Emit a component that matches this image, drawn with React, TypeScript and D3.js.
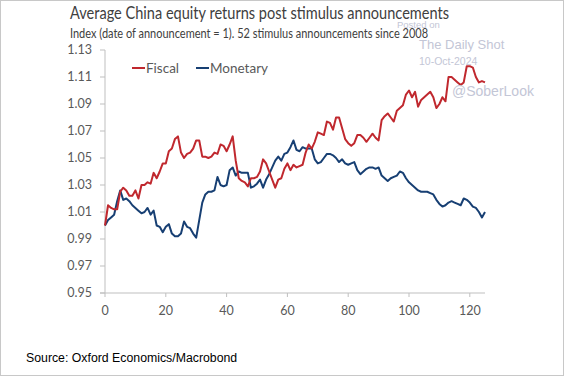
import React from "react";
import * as d3 from "d3";

const xTicks = [0, 20, 40, 60, 80, 100, 120];
const yTicks = [0.95, 0.97, 0.99, 1.01, 1.03, 1.05, 1.07, 1.09, 1.11, 1.13];

const fiscal = [
  1.000, 1.015, 1.013, 1.012, 1.012, 1.025, 1.028, 1.026, 1.022, 1.022,
  1.026, 1.020, 1.030, 1.030, 1.032, 1.031, 1.039, 1.035, 1.040, 1.046,
  1.046, 1.055, 1.057, 1.064, 1.066, 1.054, 1.050, 1.053, 1.054, 1.057,
  1.063, 1.063, 1.051, 1.051, 1.050, 1.051, 1.054, 1.053, 1.060, 1.059,
  1.055, 1.060, 1.066, 1.048, 1.035, 1.033, 1.032, 1.029, 1.035, 1.035,
  1.036, 1.040, 1.049, 1.046, 1.040, 1.034, 1.028, 1.034, 1.035, 1.042,
  1.046, 1.041, 1.045, 1.043, 1.044, 1.045, 1.054, 1.060, 1.057, 1.062,
  1.069, 1.068, 1.067, 1.077, 1.076, 1.071, 1.080, 1.080, 1.072, 1.064,
  1.061, 1.059, 1.061, 1.067, 1.067, 1.065, 1.062, 1.065, 1.068, 1.065,
  1.063, 1.078, 1.081, 1.083, 1.080, 1.077, 1.085, 1.087, 1.089, 1.097,
  1.100, 1.095, 1.099, 1.088, 1.093, 1.095, 1.097, 1.099, 1.095, 1.087,
  1.090, 1.095, 1.092, 1.110, 1.110, 1.108, 1.106, 1.104, 1.106, 1.118,
  1.118, 1.117, 1.110, 1.106, 1.107, 1.106,
];

const monetary = [
  1.000, 1.004, 1.006, 1.008, 1.018, 1.026, 1.019, 1.020, 1.018, 1.015,
  1.013, 1.011, 1.009, 1.010, 1.013, 1.008, 1.011, 1.000, 0.999, 0.995,
  0.999, 1.001, 0.994, 0.992, 0.992, 0.994, 1.003, 0.999, 0.998, 0.994,
  0.991, 1.004, 1.017, 1.023, 1.025, 1.025, 1.026, 1.036, 1.030, 1.029,
  1.030, 1.041, 1.043, 1.037, 1.040, 1.039, 1.039, 1.039, 1.028, 1.029,
  1.031, 1.034, 1.028, 1.034, 1.038, 1.043, 1.048, 1.051, 1.048, 1.053,
  1.054, 1.058, 1.063, 1.056, 1.055, 1.058, 1.057, 1.057, 1.057, 1.049,
  1.046, 1.047, 1.050, 1.053, 1.053, 1.052, 1.050, 1.047, 1.049, 1.046,
  1.045, 1.046, 1.047, 1.041, 1.038, 1.040, 1.042, 1.043, 1.043, 1.042,
  1.043, 1.037, 1.035, 1.033, 1.035, 1.036, 1.037, 1.040, 1.039, 1.035,
  1.032, 1.030, 1.028, 1.026, 1.025, 1.025, 1.025, 1.024, 1.023, 1.019,
  1.016, 1.014, 1.015, 1.017, 1.018, 1.017, 1.016, 1.015, 1.020, 1.019,
  1.017, 1.014, 1.013, 1.010, 1.006, 1.010,
];

const seriesNames = ["Fiscal", "Monetary"];
const seriesColors = ["#c0282e", "#173f73"];

const W = 564;
const H = 376;
const plot = { left: 105, right: 485, top: 50, bottom: 293 };

export default function App() {
  const x = d3.scaleLinear().domain([0, 125]).range([plot.left, plot.right]);
  const y = d3.scaleLinear().domain([0.95, 1.13]).range([plot.bottom, plot.top]);
  const line = d3
    .line<number>()
    .x((_, i) => x(i))
    .y((d) => y(d));
  const font = "Lato, 'Open Sans', sans-serif";
  const axisColor = "#bfbfbf";
  const tickText = "#595959";
  const wm = "#c3c6d6";
  const wmFont = "'Liberation Sans', Arial, sans-serif";

  return (
    <div style={{ position: "absolute", left: 0, top: 0 }}>
      <svg width={W} height={H} style={{ display: "block" }}>
        <rect x={0.5} y={0.5} width={W - 1} height={H - 1} fill="#fff" stroke="#c8c8c8" />
        <text
          x={70}
          y={19}
          fontFamily={font}
          fontSize={17}
          fill="#404040"
          textLength={379}
          lengthAdjust="spacingAndGlyphs"
        >
          Average China equity returns post stimulus announcements
        </text>
        <text
          x={70}
          y={37.5}
          fontFamily={font}
          fontSize={12.5}
          fill="#404040"
          textLength={358}
          lengthAdjust="spacingAndGlyphs"
        >
          Index (date of announcement = 1). 52 stimulus announcements since 2008
        </text>

        {/* y axis */}
        <line x1={plot.left} x2={plot.left} y1={y(1.13)} y2={plot.bottom} stroke={axisColor} />
        {yTicks.map((t) => (
          <g key={t}>
            <line x1={plot.left - 5} x2={plot.left} y1={y(t)} y2={y(t)} stroke={axisColor} />
            <text
              x={plot.left - 13}
              y={y(t)}
              dy="0.35em"
              textAnchor="end"
              fontFamily={font}
              fontSize={12.5}
              fill={tickText}
            >
              {t.toFixed(2)}
            </text>
          </g>
        ))}

        {/* x axis */}
        <line x1={plot.left - 5} x2={plot.right} y1={plot.bottom} y2={plot.bottom} stroke={axisColor} />
        {xTicks.map((t) => (
          <g key={t}>
            <line x1={x(t)} x2={x(t)} y1={plot.bottom} y2={plot.bottom + 4} stroke={axisColor} />
            <text
              x={x(t)}
              y={plot.bottom + 18}
              dy="0.35em"
              textAnchor="middle"
              fontFamily={font}
              fontSize={12.5}
              fill={tickText}
            >
              {t}
            </text>
          </g>
        ))}

        {/* lines */}
        <path d={line(monetary) || ""} fill="none" stroke={seriesColors[1]} strokeWidth={2} strokeLinejoin="round" />
        <path d={line(fiscal) || ""} fill="none" stroke={seriesColors[0]} strokeWidth={2} strokeLinejoin="round" />

        {/* legend */}
        {seriesNames.map((n, i) => {
          const lx = 132 + i * 64;
          return (
            <g key={n}>
              <line x1={lx} x2={lx + 13} y1={68} y2={68} stroke={seriesColors[i]} strokeWidth={2} />
              <text x={lx + 14} y={68} dy="0.35em" fontFamily={font} fontSize={13.5} fill="#595959">
                {n}
              </text>
            </g>
          );
        })}

        {/* watermark */}
        <text x={397} y={28} fontFamily={wmFont} fontSize={9.5} fill={wm}>
          Posted on
        </text>
        <text x={419} y={49} fontFamily={wmFont} fontSize={13} fill={wm}>
          The Daily Shot
        </text>
        <text x={419} y={65} fontFamily={wmFont} fontSize={10.5} fill={wm}>
          10-Oct-2024
        </text>
        <text x={452} y={96} fontFamily={wmFont} fontSize={14} fill={wm}>
          @SoberLook
        </text>

        <text x={26} y={362} fontFamily={wmFont} fontSize={12.3} fill="#000">
          Source: Oxford Economics/Macrobond
        </text>
      </svg>
    </div>
  );
}
